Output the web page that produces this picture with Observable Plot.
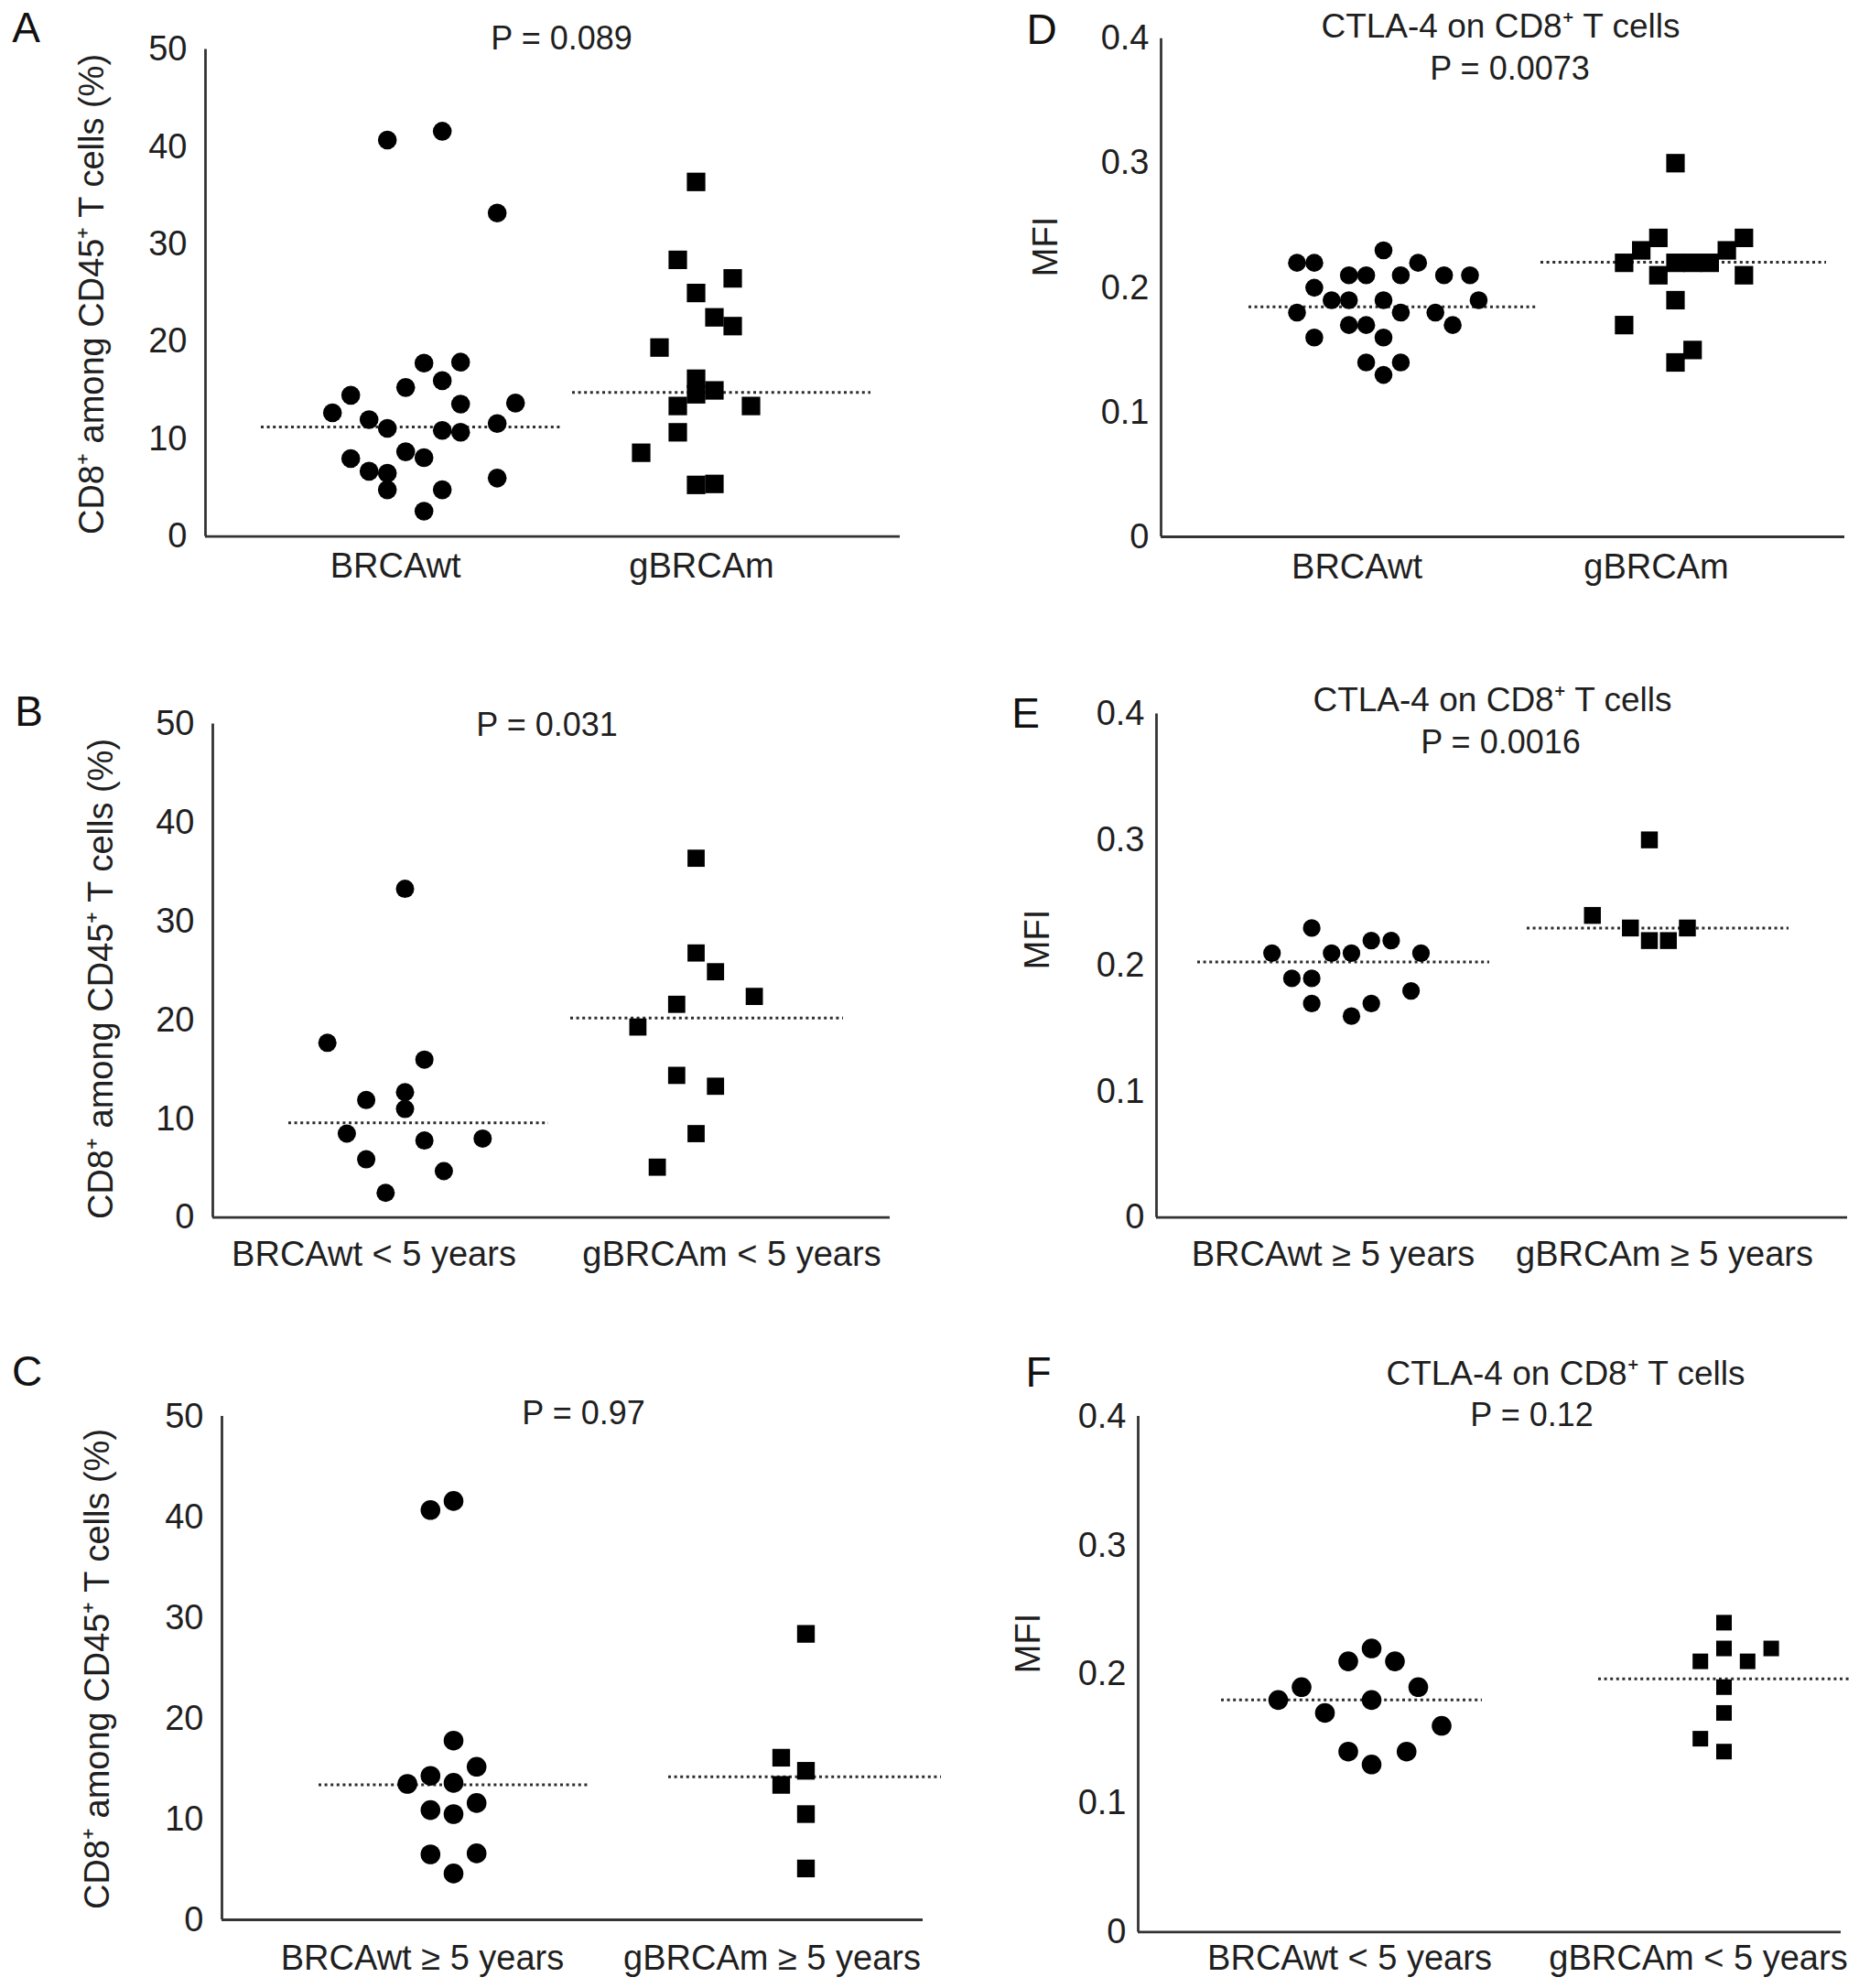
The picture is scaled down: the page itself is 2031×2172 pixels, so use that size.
<!DOCTYPE html>
<html>
<head>
<meta charset="utf-8">
<script src="https://cdn.jsdelivr.net/npm/d3@7"></script>
<script src="https://cdn.jsdelivr.net/npm/@observablehq/plot@0.6"></script>
<style>
  html, body { margin: 0; padding: 0; background: #ffffff; }
  #fig { position: relative; width: 2031px; height: 2172px; background: #ffffff; overflow: hidden; }
  #fig > div { position: absolute; }
</style>
</head>
<body>
<div id="fig"></div>
<script>
// ---------------- shared texts / ticks ----------------
const yTicksPct = [0, 10, 20, 30, 40, 50];
const yTicksMFI = [0, 0.1, 0.2, 0.3, 0.4];
const yLabelPct = "CD8\u207A among CD45\u207A T cells (%)";
const yLabelMFI = "MFI";
const titleCTLA = "CTLA-4 on CD8\u207A T cells";

// ---------------- Panel A ----------------
const A_groups = ["BRCAwt", "gBRCAm"];
const A_wt     = [40.7, 41.6, 33.2, 17.8, 17.9, 16.0, 15.3, 14.5, 13.6, 13.7, 12.7, 12.0, 11.1, 10.9, 10.7, 11.6, 8.7, 8.1, 8.0, 6.7, 6.5, 4.8, 4.8, 6.0, 2.6];
const A_wtSlot = [-2, 1, 4, 0, 2, 1, -1, -4, 2, 5, -5, -3, -2, 1, 2, 4, -1, 0, -4, -3, -2, -2, 1, 4, 0];
const A_m      = [36.4, 28.4, 26.5, 25.0, 22.5, 21.6, 19.4, 16.2, 14.6, 15.0, 13.4, 13.4, 10.7, 8.6, 5.3, 5.4];
const A_mSlot  = [0, -1, 2, 0, 1, 2, -2, 0, 0, 1, -1, 3, -1, -3, 0, 1];
const A_median = [11.25, 14.8];
const A_p = "P = 0.089";

// ---------------- Panel B ----------------
const B_groups = ["BRCAwt < 5 years", "gBRCAm < 5 years"];
const B_wt     = [33.3, 17.7, 16.0, 11.9, 12.7, 11.0, 8.5, 7.8, 8.0, 5.9, 4.7, 2.5];
const B_wtSlot = [0, -4, 1, -2, 0, 0, -3, 1, 4, -2, 2, -1];
const B_m      = [36.4, 26.8, 24.9, 21.6, 22.4, 19.3, 14.4, 13.3, 8.5, 5.1];
const B_mSlot  = [0, 0, 1, -1, 3, -3, -1, 1, 0, -2];
const B_median = [9.6, 20.2];
const B_p = "P = 0.031";

// ---------------- Panel C ----------------
const C_groups = ["BRCAwt \u2265 5 years", "gBRCAm \u2265 5 years"];
const C_wt     = [40.7, 41.6, 17.8, 14.3, 15.2, 13.5, 13.6, 10.9, 10.5, 11.6, 6.5, 6.6, 4.6];
const C_wtSlot = [-1, 0, 0, -1, 1, -2, 0, -1, 0, 1, -1, 1, 0];
const C_m      = [28.4, 16.1, 14.8, 13.4, 10.5, 5.1];
const C_mSlot  = [0, -1, 0, -1, 0, 0];
const C_median = [13.4, 14.2];
const C_p = "P = 0.97";

// ---------------- Panel D ----------------
const D_groups = ["BRCAwt", "gBRCAm"];
const D_wt     = [0.22, 0.22, 0.22, 0.23, 0.21, 0.21, 0.21, 0.21, 0.21, 0.20, 0.19, 0.19, 0.19, 0.19, 0.18, 0.18, 0.18, 0.17, 0.17, 0.17, 0.16, 0.16, 0.14, 0.14, 0.13];
const D_wtSlot = [-5, -4, 2, 0, -2, -1, 1, 3.5, 5, -4, -3, -2, 0, 5.5, -5, 1, 3, -2, -1, 4, -4, 0, -1, 1, 0];
const D_m      = [0.30, 0.24, 0.24, 0.23, 0.23, 0.22, 0.22, 0.22, 0.22, 0.21, 0.21, 0.19, 0.17, 0.15, 0.14];
const D_mSlot  = [0, -1, 4, -2, 3, -3, 0, 1, 2, -1, 4, 0, -3, 1, 0];
const D_median = [0.1846, 0.2205];
const D_p = "P = 0.0073";

// ---------------- Panel E ----------------
const E_groups = ["BRCAwt \u2265 5 years", "gBRCAm \u2265 5 years"];
const E_wt     = [0.21, 0.23, 0.19, 0.19, 0.21, 0.21, 0.22, 0.22, 0.21, 0.17, 0.17, 0.16, 0.18];
const E_wtSlot = [-4, -2, -3, -2, -1, 0, 1, 2, 3.5, -2, 1, 0, 3];
const E_m      = [0.30, 0.24, 0.23, 0.23, 0.22, 0.22];
const E_mSlot  = [0, -3, -1, 2, 0, 1];
const E_median = [0.203, 0.230];
const E_p = "P = 0.0016";

// ---------------- Panel F ----------------
const F_groups = ["BRCAwt < 5 years", "gBRCAm < 5 years"];
const F_wt     = [0.18, 0.19, 0.17, 0.21, 0.22, 0.21, 0.19, 0.18, 0.16, 0.14, 0.13, 0.14];
const F_wtSlot = [-4, -3, -2, -1, 0, 1, 2, 0, 3, -1, 0, 1.5];
const F_m      = [0.24, 0.21, 0.22, 0.21, 0.22, 0.19, 0.17, 0.15, 0.14];
const F_mSlot  = [0, -1, 0, 1, 2, 0, 0, -1, 0];
const F_median = [0.180, 0.1965];
const F_p = "P = 0.12";

// ---------------- layout (pixels in the 2031x2172 figure) ----------------
const INK = "#1f1f1f";
const AXIS = "#333333";
const FONT = "'Liberation Sans', Arial, Helvetica, sans-serif";
const FS_TICK = 38, FS_LABEL = 38, FS_P = 36, FS_TITLE = 37, FS_YLAB = 38, FS_LETTER = 46;

const panels = [
  { letter: "A", groups: A_groups, wt: A_wt, wtSlot: A_wtSlot, m: A_m, mSlot: A_mSlot, median: A_median, p: A_p, title: null,
    yMax: 50, yTicks: yTicksPct, yLabel: yLabelPct,
    left: 0, top: 0, w: 1015, h: 740, ax0: 224, ax1: 983, yTop: 53.5, y0: 585.7, tickPad: 20,
    centers: [462.7, 760], steps: [20, 20], medX: [[285, 612], [625, 951]], labelX: [431.7, 766], labelY: 618,
    pPos: [613, 42], titlePos: null, letterPos: [28, 31], yLabPos: [100, 321], r: [10.3, 11.4] },
  { letter: "B", groups: B_groups, wt: B_wt, wtSlot: B_wtSlot, m: B_m, mSlot: B_mSlot, median: B_median, p: B_p, title: null,
    yMax: 50, yTicks: yTicksPct, yLabel: yLabelPct,
    left: 0, top: 740, w: 1015, h: 740, ax0: 232, ax1: 972, yTop: 790.5, y0: 1329.7, tickPad: 20,
    centers: [442, 760], steps: [21.2, 21.2], medX: [[315, 599], [623, 921]], labelX: [408, 799], labelY: 1370,
    pPos: [597, 792], titlePos: null, letterPos: [31, 778], yLabPos: [110, 1069], r: [10, 10.6] },
  { letter: "C", groups: C_groups, wt: C_wt, wtSlot: C_wtSlot, m: C_m, mSlot: C_mSlot, median: C_median, p: C_p, title: null,
    yMax: 50, yTicks: yTicksPct, yLabel: yLabelPct,
    left: 0, top: 1480, w: 1015, h: 692, ax0: 242, ax1: 1008, yTop: 1547, y0: 2097, tickPad: 20,
    centers: [495, 880], steps: [25.2, 27], medX: [[348, 644], [730, 1028]], labelX: [461, 843], labelY: 2139,
    pPos: [637, 1544], titlePos: null, letterPos: [29, 1499], yLabPos: [106, 1823], r: [10.8, 10.9] },
  { letter: "D", groups: D_groups, wt: D_wt, wtSlot: D_wtSlot, m: D_m, mSlot: D_mSlot, median: D_median, p: D_p, title: titleCTLA,
    yMax: 0.4, yTicks: yTicksMFI, yLabel: yLabelMFI,
    left: 1015, top: 0, w: 1016, h: 740, ax0: 1268, ax1: 2015, yTop: 41.7, y0: 586, tickPad: 13,
    centers: [1511, 1830], steps: [18.9, 18.7], medX: [[1364, 1679], [1683, 1995]], labelX: [1482, 1809], labelY: 619,
    pPos: [1649, 75], titlePos: [1639, 29], letterPos: [1137.5, 33], yLabPos: [1142, 269], r: [9.8, 11.4] },
  { letter: "E", groups: E_groups, wt: E_wt, wtSlot: E_wtSlot, m: E_m, mSlot: E_mSlot, median: E_median, p: E_p, title: titleCTLA,
    yMax: 0.4, yTicks: yTicksMFI, yLabel: yLabelMFI,
    left: 1015, top: 740, w: 1016, h: 740, ax0: 1263, ax1: 2018, yTop: 779.6, y0: 1329.7, tickPad: 13,
    centers: [1476, 1801.5], steps: [21.7, 20.75], medX: [[1308, 1627], [1668, 1954]], labelX: [1456, 1818], labelY: 1370,
    pPos: [1639, 811], titlePos: [1630, 765], letterPos: [1120, 780], yLabPos: [1133, 1026], r: [9.6, 10.4] },
  { letter: "F", groups: F_groups, wt: F_wt, wtSlot: F_wtSlot, m: F_m, mSlot: F_mSlot, median: F_median, p: F_p, title: titleCTLA,
    yMax: 0.4, yTicks: yTicksMFI, yLabel: yLabelMFI,
    left: 1015, top: 1480, w: 1016, h: 692, ax0: 1243, ax1: 2011, yTop: 1547, y0: 2110.4, tickPad: 13,
    centers: [1498, 1883], steps: [25.5, 25.8], medX: [[1334, 1619], [1746, 2022]], labelX: [1474, 1855], labelY: 2139,
    pPos: [1673, 1546], titlePos: [1710, 1501], letterPos: [1134, 1500], yLabPos: [1123, 1795], r: [10.8, 9.6] }
];

function build(c) {
  // data tables built from the arrays
  const wtPts = c.wt.map((v, i) => ({ v, slot: c.wtSlot[i] }));
  const mPts = c.m.map((v, i) => ({ v, slot: c.mSlot[i] }));
  const meds = c.median.map((v, i) => ({ v, i }));
  const xOf = (gi) => (d) => c.centers[gi] - c.ax0 + d.slot * c.steps[gi];
  const frameX = (ax) => ax - c.ax0;      // offsets from frame's top-left
  const frameY = (ay) => ay - c.yTop;

  const marks = [
    // axes lines
    Plot.ruleY([0], { stroke: AXIS, strokeWidth: 2.8 }),
    Plot.ruleX([0], { y1: 0, y2: c.yMax, stroke: AXIS, strokeWidth: 2.8 }),
    // median dotted lines
    Plot.ruleY(meds, {
      y: "v",
      x1: (d) => c.medX[d.i][0] - c.ax0,
      x2: (d) => c.medX[d.i][1] - c.ax0,
      stroke: "#2e2e2e", strokeWidth: 3, strokeDasharray: "3,3.6"
    }),
    // points
    Plot.dot(wtPts, { x: xOf(0), y: "v", r: c.r[0], symbol: "circle", fill: "#000", stroke: "none" }),
    Plot.dot(mPts, { x: xOf(1), y: "v", r: c.r[1], symbol: "square", fill: "#000", stroke: "none" }),
    // y axis ticks
    Plot.axisY({ ticks: c.yTicks, tickSize: 0, tickPadding: c.tickPad, tickFormat: (d) => String(d),
                 fontSize: FS_TICK, fill: INK, label: null }),
    // group labels (x axis)
    Plot.text(c.groups, {
      x: (d, i) => c.labelX[i] - c.ax0, frameAnchor: "bottom", dy: c.labelY - c.y0,
      text: (d) => d, fontSize: FS_LABEL, fill: INK, textAnchor: "middle", lineAnchor: "middle"
    }),
    // P value
    Plot.text([c.p], { frameAnchor: "top-left", dx: frameX(c.pPos[0]), dy: frameY(c.pPos[1]),
      text: (d) => d, fontSize: FS_P, fill: INK, textAnchor: "middle", lineAnchor: "middle" }),
    // panel letter
    Plot.text([c.letter], { frameAnchor: "top-left", dx: frameX(c.letterPos[0]), dy: frameY(c.letterPos[1]),
      text: (d) => d, fontSize: FS_LETTER, fill: "#111", textAnchor: "middle", lineAnchor: "middle" }),
    // y label
    Plot.text([c.yLabel], { frameAnchor: "top-left", dx: frameX(c.yLabPos[0]), dy: frameY(c.yLabPos[1]),
      text: (d) => d, rotate: -90, fontSize: FS_YLAB, fill: INK, textAnchor: "middle", lineAnchor: "middle" })
  ];
  if (c.title) {
    marks.push(Plot.text([c.title], { frameAnchor: "top-left", dx: frameX(c.titlePos[0]), dy: frameY(c.titlePos[1]),
      text: (d) => d, fontSize: FS_TITLE, fill: INK, textAnchor: "middle", lineAnchor: "middle" }));
  }

  const svg = Plot.plot({
    width: c.w,
    height: c.h,
    marginLeft: c.ax0 - c.left,
    marginRight: c.left + c.w - c.ax1,
    marginTop: c.yTop - c.top,
    marginBottom: c.top + c.h - c.y0,
    style: { fontFamily: FONT, background: "transparent", overflow: "visible" },
    x: { domain: [0, c.ax1 - c.ax0], axis: null },
    y: { domain: [0, c.yMax] },
    marks
  });
  const holder = document.createElement("div");
  holder.style.left = c.left + "px";
  holder.style.top = c.top + "px";
  holder.style.width = c.w + "px";
  holder.style.height = c.h + "px";
  holder.appendChild(svg);
  document.getElementById("fig").appendChild(holder);
}

panels.forEach(build);
</script>
</body>
</html>
